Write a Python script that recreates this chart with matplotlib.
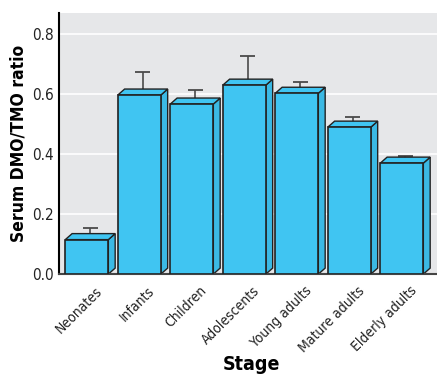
import numpy as np
import matplotlib
matplotlib.use('Agg')
import matplotlib.pyplot as plt
import matplotlib.transforms as mtransforms
from matplotlib.patches import Polygon

# Dữ liệu
stages = ['Neonates', 'Infants', 'Children', 'Adolescents', 'Young adults',
          'Mature adults', 'Elderly adults']
means = [0.115, 0.597, 0.567, 0.630, 0.603, 0.490, 0.370]
errors = [0.040, 0.077, 0.047, 0.097, 0.037, 0.033, 0.023]
yticks = [0.0, 0.2, 0.4, 0.6, 0.8]

plt.rcParams['font.family'] = ['DejaVu Sans']
plt.rcParams['font.stretch'] = 'condensed'

fig = plt.figure(figsize=(4.37, 3.76), dpi=100)
ax = fig.add_axes([0.135, 0.271, 0.865, 0.694])
ax.set_facecolor('#e6e7e9')

x = np.arange(len(stages))
w = 0.41     # nửa bề rộng mặt trước
dx = 0.13    # độ sâu theo x
dy = 0.02    # độ sâu theo y
face = '#40c5f2'
side = '#3bb9e4'
edge = '#222222'

for yt in yticks[1:]:
    ax.axhline(yt, color='white', lw=1.2, zorder=0)

for xi, m in zip(x, means):
    # mặt bên
    ax.add_patch(Polygon([(xi + w, 0), (xi + w + dx, dy), (xi + w + dx, m + dy), (xi + w, m)],
                         closed=True, fc=side, ec=edge, lw=1, zorder=2))
    # mặt trên
    ax.add_patch(Polygon([(xi - w, m), (xi - w + dx, m + dy), (xi + w + dx, m + dy), (xi + w, m)],
                         closed=True, fc=face, ec=edge, lw=1, zorder=2))
    # mặt trước
    ax.add_patch(Polygon([(xi - w, 0), (xi - w, m), (xi + w, m), (xi + w, 0)],
                         closed=True, fc=face, ec=edge, lw=1.2, zorder=3))

# thanh sai số (chỉ phía trên)
ex = x + dx / 2
tops = np.array(means) + np.array(errors)
ax.vlines(ex, np.array(means) + dy / 2, tops, color='#4a4a4a', lw=1.2, zorder=1)
ax.hlines(tops, ex - 0.14, ex + 0.14, color='#4a4a4a', lw=1.3, zorder=1)

ax.set_xlim(-0.53, 6.67)
ax.set_ylim(0, 0.87)
ax.set_yticks(yticks)
ax.set_yticklabels(['%.1f' % v for v in yticks], fontsize=11, color='#222222')
ax.set_xticks(x)
ax.set_xticklabels(stages, rotation=45, ha='right', rotation_mode='anchor',
                   fontsize=10, color='#222222')
ax.tick_params(length=0, pad=4)
ax.tick_params(axis='x', pad=7)
shift = mtransforms.ScaledTranslation(8 / 100, 0, fig.dpi_scale_trans)
for lab in ax.get_xticklabels():
    lab.set_transform(lab.get_transform() + shift)

for s in ['top', 'right']:
    ax.spines[s].set_visible(False)
ax.spines['left'].set_linewidth(1.5)
ax.spines['bottom'].set_linewidth(1.5)
ax.spines['bottom'].set_color('#444444')

ax.set_ylabel('Serum DMO/TMO ratio', fontsize=12.5, fontweight='bold', labelpad=3)
fig.text(0.575, 0.005, 'Stage', fontsize=14, fontweight='bold', ha='center', va='bottom')

fig.savefig('out.png', dpi=100)
